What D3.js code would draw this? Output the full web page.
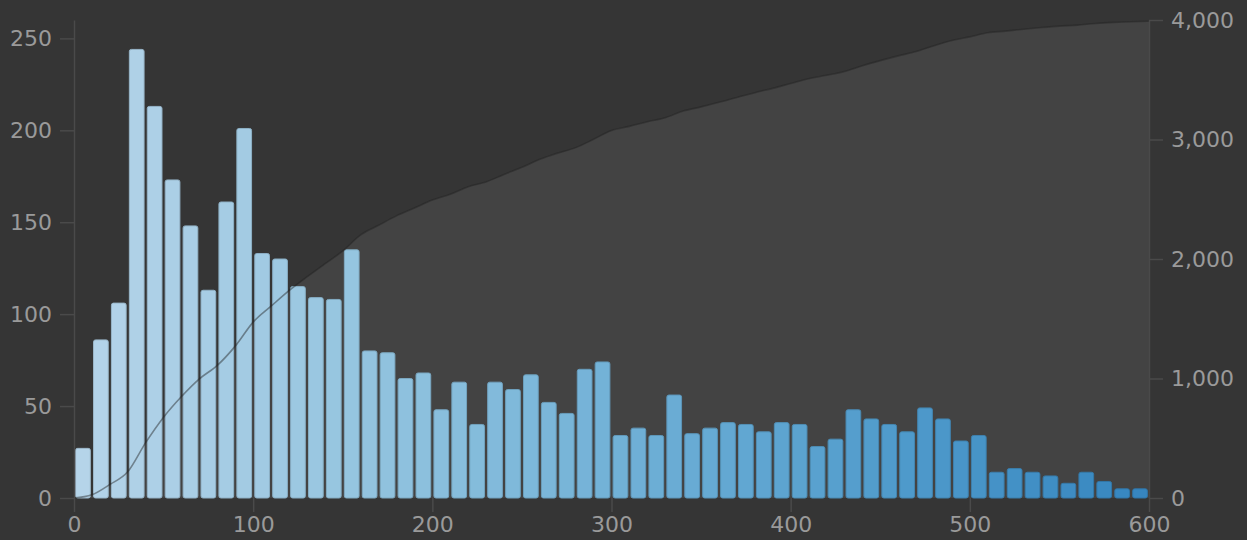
<!DOCTYPE html>
<html>
<head>
<meta charset="utf-8">
<script src="https://cdn.jsdelivr.net/npm/d3@7"></script>
<style>
  html, body { margin: 0; padding: 0; background: #353535; }
  svg { display: block; }
  .axis text { font-family: "DejaVu Sans", sans-serif; font-size: 22px; fill: #9a9a9a; }
  .axis line, .axis path { stroke: #4a4a4a; stroke-width: 1.5px; }
</style>
</head>
<body>
<div id="chart"></div>
<script>
// histogram bins: 0-10, 10-20, ... 590-600
const binStarts = d3.range(0, 600, 10);
const counts = [27, 86, 106, 244, 213, 173, 148, 113, 161, 201,
                133, 130, 115, 109, 108, 135, 80, 79, 65, 68,
                48, 63, 40, 63, 59, 67, 52, 46, 70, 74,
                34, 38, 34, 56, 35, 38, 41, 40, 36, 41,
                40, 28, 32, 48, 43, 40, 36, 49, 43, 31,
                34, 14, 16, 14, 12, 8, 14, 9, 5, 5];
const xTicks = [0, 100, 200, 300, 400, 500, 600];
const leftTicks = [0, 50, 100, 150, 200, 250];
const rightTicks = [0, 1000, 2000, 3000, 4000];

document.addEventListener('DOMContentLoaded', function() {
    const width = 1247, height = 540;
    const margin = {top: 20, right: 98, bottom: 42, left: 74};

    const svg = d3.select('#chart').append('svg')
        .attr('width', width)
        .attr('height', height);

    svg.append('rect').attr('width', width).attr('height', height).attr('fill', '#353535');

    const x = d3.scaleLinear().domain([0, 600]).range([margin.left, width - margin.right]);
    const y = d3.scaleLinear().domain([0, 260]).range([height - margin.bottom, margin.top]);
    const yCum = d3.scaleLinear().domain([0, 4000]).range([height - margin.bottom, margin.top]);

    // cumulative count at each bin edge
    const cum = [0, ...d3.cumsum(counts)];
    const cumPoints = cum.map((c, i) => ({x: i * 10, c: c}));

    const area = d3.area()
        .x(d => x(d.x))
        .y0(yCum(0))
        .y1(d => yCum(d.c))
        .curve(d3.curveMonotoneX);

    svg.append('path')
        .datum(cumPoints)
        .attr('d', area)
        .attr('fill', '#434343');

    const color = d3.scaleLinear().domain([0, counts.length - 1]).range([0.3, 0.67]);
    const bw = x(10) - x(0);

    svg.append('g').selectAll('rect')
        .data(counts)
        .enter().append('rect')
        .attr('x', (d, i) => x(binStarts[i]) + 1.6)
        .attr('y', d => y(d))
        .attr('width', bw - 3.2)
        .attr('height', d => y(0) - y(d))
        .attr('rx', 2)
        .attr('fill', (d, i) => d3.interpolateBlues(color(i)))
        .attr('stroke', (d, i) => d3.color(d3.interpolateBlues(color(i))).darker(0.4))
        .attr('stroke-width', 1);

    const line = d3.line()
        .x(d => x(d.x))
        .y(d => yCum(d.c))
        .curve(d3.curveMonotoneX);

    svg.append('path')
        .datum(cumPoints)
        .attr('d', line)
        .attr('fill', 'none')
        .attr('stroke', '#222')
        .attr('stroke-opacity', 0.45)
        .attr('stroke-width', 1.6);

    svg.append('g')
        .attr('class', 'axis')
        .attr('transform', `translate(0,${height - margin.bottom})`)
        .call(d3.axisBottom(x).tickValues(xTicks).tickSize(14).tickPadding(4).tickFormat(d3.format('d')))
        .call(g => g.select('.domain').remove());

    svg.append('g')
        .attr('class', 'axis')
        .attr('transform', `translate(${margin.left},0)`)
        .call(d3.axisLeft(y).tickValues(leftTicks).tickSize(14).tickSizeOuter(0).tickPadding(8));

    svg.append('g')
        .attr('class', 'axis')
        .attr('transform', `translate(${width - margin.right},0)`)
        .call(d3.axisRight(yCum).tickValues(rightTicks).tickSize(14).tickSizeOuter(0).tickPadding(8).tickFormat(d3.format(',')));
});
</script>
</body>
</html>
